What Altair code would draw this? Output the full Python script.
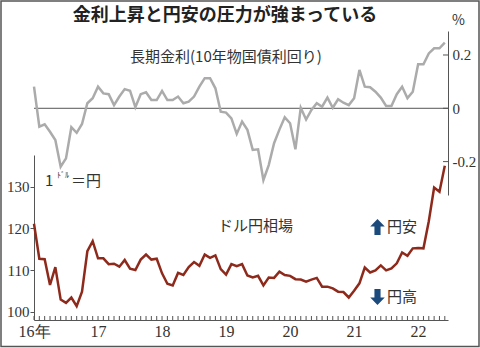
import altair as alt
import pandas as pd

# USD/JPY month-end, Jan 2016 - Jun 2022
usdjpy = [121.1, 112.7, 112.6, 106.4, 110.7, 102.9, 102.1, 103.4, 101.3, 104.8, 114.5, 116.9,
          112.8, 112.8, 111.4, 111.5, 110.8, 112.4, 110.3, 110.0, 112.5, 113.7, 112.5, 112.7,
          109.2, 106.7, 106.3, 109.3, 108.8, 110.7, 111.9, 111.0, 113.7, 112.9, 113.5, 110.2,
          108.9, 111.4, 110.9, 111.4, 108.7, 108.2, 108.6, 106.3, 108.2, 108.1, 109.6, 108.8,
          108.6, 107.8, 107.7, 107.2, 107.7, 108.1, 106.0, 106.0, 105.6, 104.8, 104.7, 103.4,
          105.0, 106.8, 110.6, 109.4, 109.9, 111.1, 109.9, 110.4, 111.6, 114.2, 113.4, 115.2,
          115.3, 115.2, 121.7, 129.8, 128.8, 135.0]

# 10-year JGB yield (%), Jan 2016 - Jun 2022
jgb10 = [0.081, -0.069, -0.060, -0.088, -0.119, -0.219, -0.188, -0.071, -0.092, -0.059, 0.019, 0.038,
         0.081, 0.056, 0.053, 0.012, 0.044, 0.072, 0.066, 0.004, 0.053, 0.060, 0.031, 0.031,
         0.065, 0.031, 0.031, 0.044, 0.019, 0.025, 0.044, 0.081, 0.113, 0.113, 0.075, -0.013,
         -0.016, -0.038, -0.096, -0.050, -0.081, -0.156, -0.154, -0.269, -0.213, -0.131, -0.080, -0.034,
         -0.056, -0.154, 0.002, -0.042, -0.006, 0.019, 0.006, 0.040, 0.002, 0.034, 0.021, 0.012,
         0.038, 0.144, 0.081, 0.079, 0.062, 0.040, 0.009, 0.009, 0.053, 0.081, 0.038, 0.062,
         0.165, 0.165, 0.206, 0.225, 0.225, 0.246]

year_labels = ["16年", "17", "18", "19", "20", "21", "22"]
year_ticks = [0, 12, 24, 36, 48, 60, 72]
left_ticks = [100, 110, 120, 130]
right_ticks = [-0.2, 0, 0.2]
right_labels = ["-0.2", "0", "0.2"]

W, H = 414, 290
FONT = "Noto Sans CJK JP"
NUM_FONT = "Liberation Sans Narrow"
RED = "#8e2a1c"
GRAY = "#ababab"
AX = "#555555"
TXT = "#333333"
NAVY = "#1b4a7c"

df = pd.DataFrame({"t": list(range(len(usdjpy))), "usdjpy": usdjpy, "jgb": jgb10})
ticks_df = pd.DataFrame({"t": list(range(len(usdjpy)))})
rt_df = pd.DataFrame({"v": right_ticks})

xscale = alt.Scale(domain=[0, 77.6], nice=False, zero=False)
red_scale = alt.Scale(domain=[98.0, 137.6], range=[H, 125], nice=False, zero=False)
gray_scale = alt.Scale(domain=[-0.3253, 0.290], range=[165, 1], nice=False, zero=False)

label_expr = "[" + ",".join("'" + s + "'" for s in year_labels) + "][round(datum.value/12)]"
right_expr = "[" + ",".join("'" + s + "'" for s in right_labels) + "][round(datum.value*5)+1]"

x_axis = alt.Axis(values=year_ticks, labelExpr=label_expr, tickSize=0, domainColor=AX,
                  labelColor=TXT, labelFont=NUM_FONT, labelFontSize=16, labelPadding=3,
                  labelFlush=False, labelOverlap=False,
                  grid=False, title=None, labelAngle=0)
gray_axis = alt.Axis(orient="right", values=right_ticks, labelExpr=right_expr, tickSize=0,
                     domainColor=AX, labelColor=TXT, labelFont=NUM_FONT, labelFontSize=15,
                     labelPadding=4, grid=False, title=None)
red_axis = alt.Axis(orient="left", values=left_ticks, tickSize=4, tickColor=AX,
                    domainColor=AX, labelColor=TXT, labelFont=NUM_FONT, labelFontSize=15,
                    labelPadding=1, grid=False, title=None)

zero_rule = alt.Chart(rt_df).transform_filter("datum.v == 0").mark_rule(color=AX, strokeWidth=1).encode(
    y=alt.Y("v:Q", scale=gray_scale, axis=gray_axis)
)
gray_line = alt.Chart(df).mark_line(color=GRAY, strokeWidth=2.5).encode(
    x=alt.X("t:Q", scale=xscale, axis=x_axis),
    y=alt.Y("jgb:Q", scale=gray_scale, axis=gray_axis),
)
right_tick_rules = alt.Chart(rt_df).mark_rule(color=AX, strokeWidth=1).encode(
    y=alt.Y("v:Q", scale=gray_scale, axis=gray_axis),
    x=alt.value(W - 5), x2=alt.value(W),
)
gray_layer = alt.layer(zero_rule, gray_line, right_tick_rules)

red_line = alt.Chart(df).mark_line(color=RED, strokeWidth=2.5).encode(
    x=alt.X("t:Q", scale=xscale, axis=x_axis),
    y=alt.Y("usdjpy:Q", scale=red_scale, axis=red_axis),
)
month_ticks = alt.Chart(ticks_df).mark_rule(color=AX, strokeWidth=1).encode(
    x=alt.X("t:Q", scale=xscale, axis=x_axis),
    y=alt.value(H - 4), y2=alt.value(H),
)

def txt(s, x, y, size=15, color=TXT, align="left", font=FONT, weight="normal"):
    return alt.Chart(pd.DataFrame({"s": [s]})).mark_text(
        align=align, baseline="middle", fontSize=size, font=font, color=color, fontWeight=weight
    ).encode(text="s:N", x=alt.value(x), y=alt.value(y))

arrow_up = "M0,-1 L0.9,-0.05 L0.38,-0.05 L0.38,1 L-0.38,1 L-0.38,-0.05 L-0.9,-0.05 Z"
arrow_dn = "M0,1 L0.9,0.05 L0.38,0.05 L0.38,-1 L-0.38,-1 L-0.38,0.05 L-0.9,0.05 Z"

def arrow(shape, x, y):
    return alt.Chart(pd.DataFrame({"a": [0]})).mark_point(
        shape=shape, filled=True, color=NAVY, opacity=1, size=260, strokeWidth=0
    ).encode(x=alt.value(x), y=alt.value(y))

frame = alt.Chart(pd.DataFrame({"a": [0]})).mark_rect(
    fill=None, stroke="#555555", strokeWidth=1.5
).encode(x=alt.value(-33), x2=alt.value(445), y=alt.value(-29), y2=alt.value(316.5))

annotations = alt.layer(
    txt("金利上昇と円安の圧力が強まっている", 191, -14, size=18, color="#222222",
        align="center", weight="bold"),
    txt("%", 418, -9, size=14),
    txt("長期金利(10年物国債利回り)", 96, 27),
    txt("1", 11, 151),
    txt("ﾄﾞﾙ", 23, 146, size=8),
    txt("＝円", 37, 151),
    txt("ドル円相場", 184, 196),
    arrow(arrow_up, 343.5, 197),
    txt("円安", 353, 197),
    arrow(arrow_dn, 343.5, 267),
    txt("円高", 353, 267),
    frame,
)

red_layer = alt.layer(red_line, month_ticks, annotations)

chart = alt.layer(gray_layer, red_layer).resolve_scale(y="independent").properties(
    width=W, height=H,
    padding={"left": 34, "top": 30, "right": 32, "bottom": 28},
    autosize=alt.AutoSizeParams(type="none"),
).configure_view(stroke=None)

chart.save("out.html", embed_options={"renderer": "svg", "actions": False})
